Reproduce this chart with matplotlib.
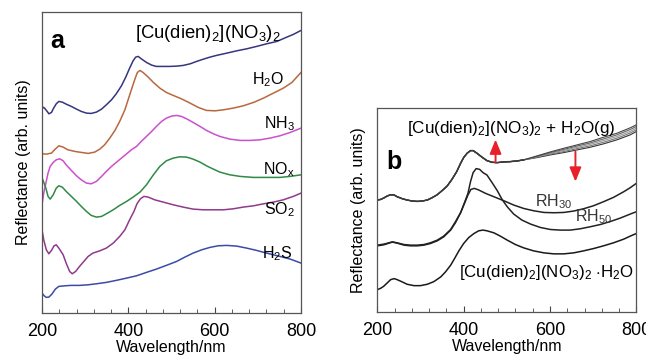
import numpy as np
import matplotlib.pyplot as plt
from matplotlib.ticker import MultipleLocator

plt.rcParams['font.family'] = ['Liberation Sans', 'DejaVu Sans']
plt.rcParams['mathtext.fontset'] = 'custom'
plt.rcParams['mathtext.rm'] = 'Liberation Sans'
plt.rcParams['mathtext.it'] = 'Liberation Sans'

# ---- panel a: reflectance spectra after gas exposure (arb. units) ----
wl_cu = [200, 202, 206, 212, 216, 222, 227, 233, 239, 247, 256, 268, 280, 291, 303, 314,
         326, 338, 349, 361, 372, 384, 394, 403, 411, 417, 423, 430, 442, 454, 465, 481,
         496, 512, 527, 543, 558, 574, 589, 604, 628, 651, 674, 697, 720, 744, 767, 782, 800]
r_cu = [203.3, 206, 205, 201.7, 199.3, 200.7, 205, 209.3, 211.7, 211, 209, 206.7, 204, 201.7,
        200, 199.7, 201, 204, 208.3, 213.3, 219.3, 227.3, 236, 245, 252.3, 256, 256.7, 254.3,
        250.7, 248, 246.7, 246.7, 246.7, 247, 247.7, 249.3, 251.7, 254, 256, 257.7, 260,
        262.3, 264.3, 266.7, 269.3, 271.7, 276, 278.7, 282.7]

wl_h2o = [200, 210, 222, 229, 239, 249, 260, 276, 291, 307, 322, 334, 345, 357, 369, 380,
          392, 402, 410, 416, 421, 427, 434, 446, 458, 473, 488, 504, 523, 543, 562, 581,
          601, 620, 643, 666, 690, 713, 736, 759, 779, 790, 800]
r_h2o = [159.3, 159, 160, 163.3, 167.3, 166, 163.3, 161.7, 160.7, 159.7, 161, 164, 168.3,
         175, 182.7, 191.7, 203.3, 216.7, 227.3, 235, 240.7, 242.7, 240.7, 236, 230.7, 225,
         220.7, 217.7, 214.3, 210, 205.7, 202.7, 202.3, 203.3, 205, 207.3, 210.7, 215, 220,
         225, 230.7, 236, 240.7]

wl_nh3 = [200, 204, 209, 214, 219, 226, 233, 241, 249, 256, 268, 280, 291, 303, 314, 326,
          338, 349, 361, 372, 384, 396, 407, 419, 430, 442, 454, 465, 477, 488, 500, 512,
          523, 535, 550, 566, 581, 597, 612, 635, 659, 682, 705, 728, 751, 775, 800]
r_nh3 = [108.3, 120, 130, 140, 146.7, 150.7, 153.3, 154.3, 152.3, 148.3, 142.7, 137.3, 133.3,
         130, 129.3, 131.7, 136.7, 141.7, 146.7, 150.7, 155, 159.3, 163.3, 166.7, 171.7,
         176.7, 181.7, 186.7, 191.7, 195, 197, 197.7, 196.7, 194.3, 190.7, 186.7, 182.7,
         179.3, 176.7, 174, 172.7, 172.7, 173.3, 175, 177.3, 180.7, 185]

wl_nox = [200, 202, 209, 214, 219, 226, 233, 239, 247, 256, 268, 280, 291, 303, 314, 326,
          338, 349, 365, 380, 396, 411, 427, 442, 458, 473, 488, 504, 519, 535, 550, 566,
          581, 597, 612, 635, 659, 690, 720, 751, 775, 800]
r_nox = [135, 133.3, 125, 116.7, 114, 118.3, 125, 127.3, 126, 121.7, 116.7, 111.7, 106.7,
         101.7, 97.7, 96, 96.7, 99.3, 103.3, 107.7, 111.7, 116, 121, 128.3, 138.3, 146.7,
         152.3, 155, 156.3, 156, 154, 151, 147.3, 144, 141, 138.3, 136.7, 135.7, 135.7,
         135.7, 136.7, 138.3]

wl_so2 = [200, 204, 210, 216, 222, 228, 233, 239, 249, 256, 264, 270, 278, 287, 297, 307,
          318, 334, 349, 365, 380, 392, 403, 413, 420, 428, 436, 446, 461, 481, 504, 527,
          550, 574, 597, 620, 643, 666, 690, 713, 736, 759, 782, 800]
r_so2 = [83.3, 73.3, 63.3, 59.3, 62.7, 67.3, 68.3, 65, 58.3, 50, 41.7, 39.3, 41.7, 46.7,
         51.7, 56.7, 60, 62.3, 65, 70, 76.7, 83.3, 93.3, 101.7, 109.3, 114.3, 116.7, 116,
         113.3, 111, 108.3, 106, 104, 103.3, 103.3, 103.3, 104.3, 106, 107.3, 109.3, 111,
         113.3, 116.7, 120]

wl_h2s = [200, 205, 210, 216, 223, 231, 239, 253, 268, 287, 307, 326, 349, 372, 396, 419,
          442, 465, 488, 512, 531, 550, 570, 589, 608, 628, 651, 674, 697, 720, 751, 775, 800]
r_h2s = [20, 17.3, 15.7, 16, 19, 24, 26.7, 27.3, 27.7, 27.7, 28.3, 29.3, 30.7, 32.7, 35,
         37.3, 40.7, 44, 47.7, 51.7, 56, 60, 63.3, 65.7, 67.3, 67.7, 67, 65, 62.7, 60, 56.7,
         54, 50]

spectra_a = [
    (wl_cu, r_cu, '#35367e'),
    (wl_h2o, r_h2o, '#b8683e'),
    (wl_nh3, r_nh3, '#cc4fcc'),
    (wl_nox, r_nox, '#2f8a45'),
    (wl_so2, r_so2, '#8f3a8c'),
    (wl_h2s, r_h2s, '#3b4ba6'),
]
labels_a = [r'[Cu(dien)$_2$](NO$_3$)$_2$', r'H$_2$O', r'NH$_3$', r'NO$_x$', r'SO$_2$', r'H$_2$S']
label_pos_a = [(0.922, 0.930), (0.934, 0.777), (0.975, 0.628), (0.975, 0.478), (0.975, 0.345), (0.965, 0.196)]
label_size_a = [13.3, 11.5, 11.5, 11.5, 11.5, 11.5]

# ---- panel b: water vapour exposure ----
wl_b_head = [200, 208, 215, 223, 231, 239, 246, 258, 269, 281, 293, 304, 316, 327, 339,
             350, 362, 373, 384, 393, 400, 408, 416, 422, 431, 443, 454, 466, 478, 493,
             508, 524, 539]
r_b_head = [111.7, 112.3, 113.7, 115.7, 117, 116.7, 115, 113, 111.7, 110.7, 110.3, 110.7,
            111.7, 114, 117, 121, 125.7, 132.3, 140, 148.3, 154, 158.3, 161, 161, 158.3,
            154.3, 151, 149.3, 149, 149.7, 150, 150.7, 151.7]
wl_b_tail = [539, 570, 601, 632, 663, 693, 724, 755, 786, 800]
r_b_tails = [
    [151.7, 154, 156.7, 159, 161.7, 164.3, 167.7, 171.7, 176.7, 180],
    [151.7, 154.5, 157.5, 160, 163, 165.7, 169.3, 173.3, 178.5, 181.7],
    [151.7, 155, 158.2, 161.2, 164.2, 167.2, 171, 175, 180.2, 183.3],
    [151.7, 155.3, 159, 162.2, 165.5, 168.6, 172.6, 176.7, 182, 185],
    [151.7, 155.7, 159.7, 163.3, 166.7, 170, 174.3, 178.3, 183.7, 186.7],
]

wl_rh30 = [200, 215, 227, 235, 246, 262, 277, 293, 308, 323, 339, 354, 370, 381, 393, 402,
           410, 417, 425, 435, 451, 470, 493, 516, 539, 562, 586, 609, 632, 655, 678, 701,
           724, 747, 771, 786, 800]
r_rh30 = [66.7, 67.7, 69, 70, 69, 67.3, 66.7, 66.7, 67.3, 69, 71.7, 75.7, 82.3, 90, 99,
          108.3, 116.7, 122.3, 123.3, 121.7, 118.3, 115, 111, 106.7, 103.3, 101, 99.3, 99,
          99.3, 100.7, 103, 106, 110, 114.3, 120, 124, 128.3]

wl_rh50 = [200, 215, 227, 235, 246, 262, 277, 293, 308, 323, 339, 354, 370, 381, 393, 402,
           410, 416, 422, 429, 437, 445, 454, 466, 478, 489, 501, 516, 535, 555, 578, 601,
           624, 647, 670, 693, 717, 740, 763, 786, 800]
r_rh50 = [66, 67, 68.7, 69.7, 68.7, 66.7, 66, 66, 66.7, 68.3, 71, 75, 81.7, 89, 99, 109,
          118.3, 130, 139, 143, 142.3, 139, 136.7, 129, 121, 112.3, 105, 97.7, 91.7, 87.7,
          84.3, 82.3, 81.7, 81.7, 83, 85, 87.3, 90.3, 93.7, 97.7, 100]

wl_hyd = [200, 208, 215, 223, 231, 239, 246, 258, 269, 285, 300, 316, 331, 347, 358, 370,
          379, 389, 400, 412, 424, 435, 445, 454, 470, 485, 501, 520, 539, 562, 586, 609,
          632, 655, 678, 701, 724, 747, 771, 786, 800]
r_hyd = [22.3, 23.7, 25.7, 29, 32.3, 33.3, 32.3, 30, 27.7, 26.3, 26.3, 27.7, 30.3, 35, 40,
         46.7, 53.3, 61, 68.3, 74.3, 78.3, 81, 81.7, 81, 79, 75.7, 71.7, 67.3, 64, 61, 59,
         58, 58, 59, 61, 63.3, 66, 69, 72.7, 75.7, 78.3]

arrow_up = (474, 149, 172)
arrow_down = (659, 160, 130)

fig = plt.figure(figsize=(6.46, 3.57), dpi=100)
ax_a = fig.add_axes([0.065, 0.123, 0.401, 0.843])
ax_b = fig.add_axes([0.584, 0.126, 0.401, 0.571])

for (x, y, c) in spectra_a:
    ax_a.plot(x, y, color=c, lw=1.1)
for lab, (tx, ty), fs in zip(labels_a, label_pos_a, label_size_a):
    ax_a.text(tx, ty, lab, transform=ax_a.transAxes, ha='right', va='center', fontsize=fs)
ax_a.text(0.03, 0.905, 'a', transform=ax_a.transAxes, fontsize=18, fontweight='bold', va='center')
ax_a.set_ylim(0, 301)

for tail, g in zip(r_b_tails, ['#333333', '#777777', '#999999', '#666666', '#444444']):
    ax_b.plot(wl_b_head + wl_b_tail[1:], r_b_head + tail[1:], color=g, lw=0.8)
ax_b.plot(wl_b_head, r_b_head, color='#3a3a3a', lw=1.1)
ax_b.plot(wl_rh30, r_rh30, color='#222222', lw=1.1)
ax_b.plot(wl_rh50, r_rh50, color='#222222', lw=1.1)
ax_b.plot(wl_hyd, r_hyd, color='#1a1a1a', lw=1.1)
for (x, y0, y1) in [arrow_up, arrow_down]:
    ax_b.annotate('', xy=(x, y1), xytext=(x, y0),
                  arrowprops=dict(arrowstyle='-|>,head_length=0.85,head_width=0.35',
                                  mutation_scale=10, shrinkA=0, shrinkB=0,
                                  color='#e8202a', lw=1.4))
ax_b.set_ylim(0, 203.3)
ax_b.text(0.115, 0.90, r'[Cu(dien)$_2$](NO$_3$)$_2$ + H$_2$O(g)', transform=ax_b.transAxes,
          ha='left', va='center', fontsize=12.3)
ax_b.text(0.035, 0.735, 'b', transform=ax_b.transAxes, fontsize=18, fontweight='bold', va='center')
ax_b.text(0.61, 0.54, r'RH$_{30}$', transform=ax_b.transAxes, ha='left', va='center', fontsize=11.5, color='#333333')
ax_b.text(0.765, 0.47, r'RH$_{50}$', transform=ax_b.transAxes, ha='left', va='center', fontsize=11.5, color='#333333')
ax_b.text(0.99, 0.195, r'[Cu(dien)$_2$](NO$_3$)$_2$ $\cdot$H$_2$O', transform=ax_b.transAxes,
          ha='right', va='center', fontsize=12.2)

for ax in (ax_a, ax_b):
    ax.set_xlim(200, 800)
    ax.xaxis.set_major_locator(MultipleLocator(200))
    ax.xaxis.set_minor_locator(MultipleLocator(40))
    ax.tick_params(axis='x', which='major', direction='in', length=4, labelsize=13, pad=7, color='#444444')
    ax.tick_params(axis='x', which='minor', direction='in', length=3, color='#444444')
    ax.set_yticks([])
    ax.set_xlabel('Wavelength/nm', fontsize=11.5, labelpad=0)
    ax.set_ylabel('Reflectance (arb. units)', fontsize=11.5, labelpad=8)
    for s in ax.spines.values():
        s.set_color('#555555')
        s.set_linewidth(0.9)

fig.savefig('out.png', dpi=100)
